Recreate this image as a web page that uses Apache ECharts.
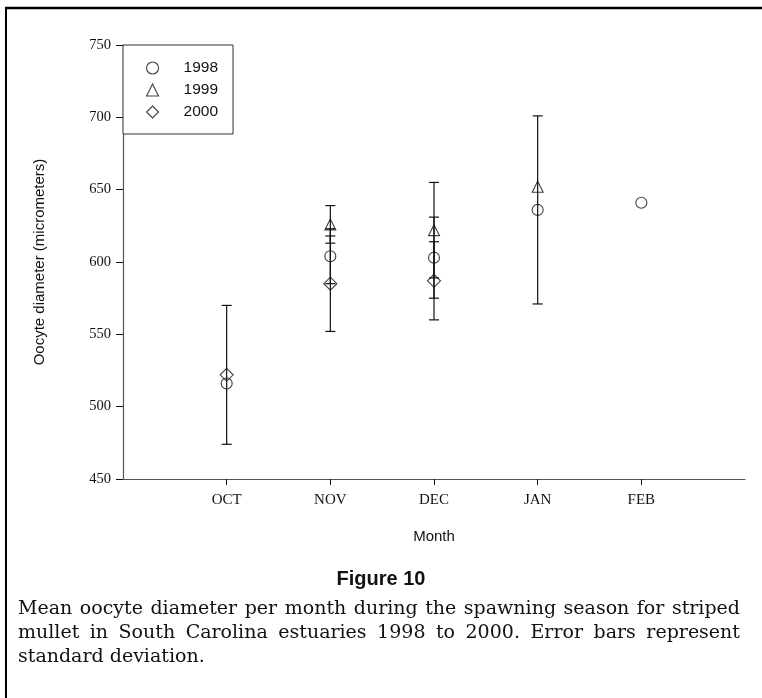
<!DOCTYPE html>
<html>
<head>
<meta charset="utf-8">
<script src="https://cdn.jsdelivr.net/npm/echarts@6/dist/echarts.min.js"></script>
<style>
  html, body { margin: 0; padding: 0; background: #fff; }
  #wrap { position: relative; width: 762px; height: 698px; }
  #chart { position: absolute; left: 0; top: 0; width: 762px; height: 698px; }
  #caption {
    position: absolute; left: 18px; top: 595px; width: 722px;
    font-family: "DejaVu Serif", "Liberation Serif", serif;
    font-size: 19px; line-height: 24px; color: #111;
  }
  #caption .j { text-align: justify; text-align-last: justify; white-space: nowrap; }
  #caption .l { text-align: left; }
</style>
</head>
<body>
<div id="wrap">
  <div id="chart"></div>
  <div id="caption">
    <div class="j">Mean oocyte diameter per month during the spawning season for striped</div>
    <div class="j">mullet in South Carolina estuaries 1998 to 2000. Error bars represent</div>
    <div class="l">standard deviation.</div>
  </div>
</div>
<script>
// Months sampled during the spawning season
var months = ['OCT', 'NOV', 'DEC', 'JAN', 'FEB'];
var yTicks = [450, 500, 550, 600, 650, 700, 750];

// Mean oocyte diameter (micrometers) per month; null = not sampled
var mean1998 = [516, 604, 603, 636, 641];
var mean1999 = [null, 626, 622, 652, null];
var mean2000 = [522, 585, 587, null, null];

// Standard deviations; null = no error bar drawn
var sd1998 = [null, 19, 28, 65, null];
var sd1999 = [null, 13, 33, null, null];
var sd2000 = [48, 33, 27, null, null];

var years = ['1998', '1999', '2000'];
var symbols = ['circle', 'triangle', 'path://M0,-1 L1,0 L0,1 L-1,0 Z'];
var symbolSizes = [11, 11, 13];
var means = [mean1998, mean1999, mean2000];
var sds = [sd1998, sd1999, sd2000];

// axis categories padded by one empty slot at each end
var axisCats = [''].concat(months, ['']);

function pointData(arr) {
  var out = [];
  arr.forEach(function (v, i) { if (v != null) out.push([months[i], v]); });
  return out;
}
function barData(m, s) {
  var out = [];
  m.forEach(function (v, i) {
    if (v != null && s[i] != null) out.push([i + 1, v, s[i]]);
  });
  return out;
}

function renderErrorBar(params, api) {
  var x = api.value(0), m = api.value(1), s = api.value(2);
  var hi = api.coord([x, m + s]);
  var lo = api.coord([x, m - s]);
  var half = 5;
  var style = { stroke: '#111', lineWidth: 1.2 };
  return {
    type: 'group',
    children: [
      { type: 'line', shape: { x1: hi[0], y1: hi[1], x2: lo[0], y2: lo[1] }, style: style },
      { type: 'line', shape: { x1: hi[0] - half, y1: hi[1], x2: hi[0] + half, y2: hi[1] }, style: style },
      { type: 'line', shape: { x1: lo[0] - half, y1: lo[1], x2: lo[0] + half, y2: lo[1] }, style: style }
    ]
  };
}

var series = [];
years.forEach(function (yr, k) {
  series.push({
    name: yr + ' sd',
    type: 'custom',
    renderItem: renderErrorBar,
    data: barData(means[k], sds[k]),
    encode: { x: 0, y: 1 },
    z: 1,
    silent: true
  });
});
years.forEach(function (yr, k) {
  series.push({
    name: yr,
    type: 'scatter',
    symbol: symbols[k],
    symbolSize: symbolSizes[k],
    data: pointData(means[k]),
    itemStyle: { color: 'rgba(0,0,0,0)', borderColor: '#111', borderWidth: 1.1 },
    z: 3
  });
});

var serif = '"Liberation Serif", "Times New Roman", serif';
var sans = '"Liberation Sans", Arial, sans-serif';

var chart = echarts.init(document.getElementById('chart'), null, { renderer: 'canvas' });
chart.setOption({
  animation: false,
  backgroundColor: '#fff',
  grid: { left: 123, top: 45, right: 17, bottom: 219, containLabel: false },
  xAxis: {
    type: 'category',
    data: axisCats,
    boundaryGap: false,
    name: 'Month',
    nameLocation: 'middle',
    nameGap: 50,
    nameTextStyle: { fontFamily: sans, fontSize: 15, color: '#111' },
    axisLine: { lineStyle: { color: '#555', width: 1.2 } },
    axisTick: {
      length: 6,
      lineStyle: { color: '#111' },
      interval: function (i) { return i >= 1 && i <= months.length; }
    },
    axisLabel: {
      interval: 0,
      margin: 14,
      fontFamily: serif, fontSize: 15, color: '#111'
    },
    splitLine: { show: false }
  },
  yAxis: {
    type: 'value',
    min: yTicks[0],
    max: yTicks[yTicks.length - 1],
    interval: 50,
    name: 'Oocyte diameter (micrometers)',
    nameLocation: 'middle',
    nameGap: 76,
    nameTextStyle: { fontFamily: sans, fontSize: 15, color: '#111' },
    axisLine: { show: true, lineStyle: { color: '#555', width: 1.2 } },
    axisTick: { show: true, length: 7, lineStyle: { color: '#111' } },
    axisLabel: { margin: 12, fontFamily: serif, fontSize: 14.5, color: '#111' },
    splitLine: { show: false }
  },
  legend: {
    data: years,
    orient: 'vertical',
    left: 123,
    top: 45,
    padding: [15, 15, 14, 23],
    itemWidth: 12,
    itemHeight: 12,
    itemGap: 6,
    borderColor: '#333',
    borderWidth: 1,
    borderRadius: 0,
    backgroundColor: '#fff',
    textStyle: { fontFamily: sans, fontSize: 15.5, lineHeight: 14, color: '#111', padding: [0, 0, 0, 20] },
    itemStyle: { color: 'rgba(0,0,0,0)', borderColor: '#111', borderWidth: 1.1 }
  },
  graphic: [
    { type: 'line', shape: { x1: 5, y1: 8, x2: 762, y2: 8 }, style: { stroke: '#000', lineWidth: 2.5 } },
    { type: 'line', shape: { x1: 6, y1: 7, x2: 6, y2: 698 }, style: { stroke: '#000', lineWidth: 2 } },
    {
      type: 'text', left: 'center', top: 569,
      style: { text: 'Figure 10', fontFamily: sans, fontWeight: 'bold', fontSize: 20, fill: '#111' }
    }
  ],
  series: series
});
</script>
</body>
</html>
